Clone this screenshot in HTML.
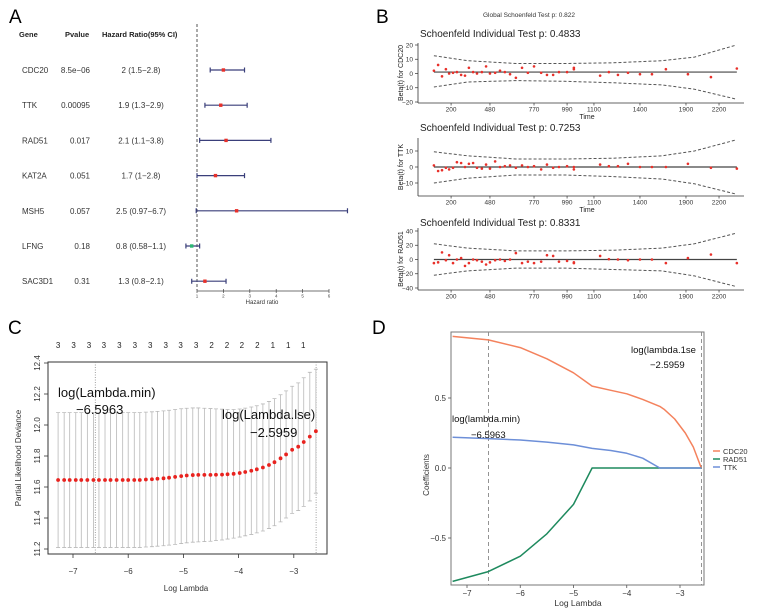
<!DOCTYPE html>
<html><head><meta charset="utf-8"><style>
html,body{margin:0;padding:0;background:#fff;}
svg{display:block;font-family:"Liberation Sans",Arial,sans-serif;}
</style></head><body>
<svg id="fig" xmlns="http://www.w3.org/2000/svg" width="764" height="613" viewBox="0 0 764 613">
<rect width="764" height="613" fill="#fff"/>
<text x="9" y="23" font-size="19">A</text>
<text x="376" y="23" font-size="19">B</text>
<text x="8" y="334" font-size="19">C</text>
<text x="372" y="334" font-size="19">D</text>
<g font-size="7.5" font-weight="bold" fill="#222">
<text x="19" y="37">Gene</text>
<text x="65" y="37">Pvalue</text>
<text x="102" y="37">Hazard Ratio(95% CI)</text>
</g>
<text x="529" y="17" font-size="6.5" text-anchor="middle" fill="#333">Global Schoenfeld Test p: 0.822</text>
<g id="A"></g><g id="B"></g><g id="C"></g><g id="D"></g>
</svg>
<script>
// ---------- Panel A data ----------
const genes=["CDC20","TTK","RAD51","KAT2A","MSH5","LFNG","SAC3D1"];
const pvals=["8.5e\u221206","0.00095","0.017","0.051","0.057","0.18","0.31"];
const hrVals=[2,1.9,2.1,1.7,2.5,0.8,1.3];
const hrLo=[1.5,1.3,1.1,1,0.97,0.58,0.8];
const hrHi=[2.8,2.9,3.8,2.8,6.7,1.1,2.1];
const hrTicks=[1,2,3,4,5,6];
// ---------- Panel B data ----------
const bTimeTicks=["200","480","770","990","1100","1400","1900","2200"];
const bTickPos=[9.9,21.9,35.5,45.7,54,68.2,82.4,92.6];
const bTimes=[4.6,5.9,7.1,8.3,9.3,10.5,11.7,13,14.2,15.4,16.7,17.9,19.4,20.7,21.9,23.5,25,26.5,28.1,29.9,31.8,33.6,35.5,37.7,39.5,41.4,43.2,45.7,47.8,47.8,55.9,58.6,61.4,64.5,68.2,71.9,76.2,83,90.1,98.1];
const betaCDC20=[2,6,-2,3,0,0.5,1,-1,-1.5,4,1,0,1,5,0,0.5,2,1,-0.5,-3,4,0.5,5,0.5,-1,-1,1,1,4,3,-1.5,1,-1,0.5,-0.5,-0.5,3,-0.5,-2.5,3.5];
const betaTTK=[1,-2.5,-2,-0.5,-1.5,-0.5,3,2.5,0,2,2.5,-0.5,-1,1.5,-1,3.5,0,0.5,1,-0.5,1,0,0.5,-1.5,1.5,-0.5,0,0.5,0,-1.5,1.5,0.5,0.5,2,0,0,0,2,-0.5,-1];
const betaRAD51=[-5,-4,10,-1,6,-5,0,2,-9,-5,0,-1,-3,-7,-4,-1,0,-2,0,9,-5,-3,-5,-3,6,5,-3,-2,-5,-4,5,0.5,0,-1,0,0,-5,2,7,-5];
const bandKnots=[4.6,15,30,45,60,75,85,98];
const upCDC20=[12.5,9,7,7,7.5,9,11.5,20], loCDC20=[-9.5,-6,-5,-5.5,-6.5,-8,-11,-18];
const upTTK=[9.5,7,5,5,5.5,7,10,17], loTTK=[-10,-7,-5,-5,-6,-7.5,-10.5,-17];
const upRAD51=[22,16,12,12,13,16,22,37], loRAD51=[-22,-16,-12,-12,-14,-16,-23,-38];
// ---------- Panel C data ----------
const cLambda=[-7.27,-7.16,-7.06,-6.95,-6.85,-6.74,-6.63,-6.53,-6.42,-6.32,-6.21,-6.10,-6.00,-5.89,-5.79,-5.68,-5.57,-5.47,-5.36,-5.26,-5.15,-5.04,-4.94,-4.83,-4.73,-4.62,-4.51,-4.41,-4.30,-4.20,-4.09,-3.98,-3.88,-3.77,-3.67,-3.56,-3.45,-3.35,-3.24,-3.14,-3.03,-2.92,-2.82,-2.71,-2.60];
const cMean=[11.645,11.645,11.645,11.645,11.645,11.645,11.645,11.645,11.645,11.645,11.645,11.645,11.645,11.645,11.645,11.648,11.650,11.653,11.656,11.660,11.665,11.670,11.674,11.677,11.678,11.678,11.678,11.679,11.680,11.682,11.685,11.690,11.697,11.705,11.714,11.726,11.742,11.760,11.785,11.81,11.84,11.86,11.89,11.925,11.96];
const cSE=[0.435,0.435,0.435,0.435,0.435,0.435,0.435,0.435,0.435,0.435,0.435,0.435,0.435,0.435,0.435,0.435,0.435,0.435,0.435,0.435,0.435,0.435,0.434,0.433,0.432,0.430,0.428,0.425,0.422,0.418,0.415,0.413,0.412,0.411,0.410,0.410,0.410,0.410,0.410,0.410,0.410,0.412,0.415,0.415,0.40];
const cTopNums=["3","3","3","3","3","3","3","3","3","3","2","2","2","2","1","1","1"];
const cTopPos=[-7.27,-6.99,-6.71,-6.44,-6.16,-5.88,-5.60,-5.32,-5.05,-4.77,-4.49,-4.21,-3.94,-3.66,-3.38,-3.10,-2.83];
const cYTicks=[11.2,11.4,11.6,11.8,12.0,12.2,12.4];
const cXTicks=[-7,-6,-5,-4,-3];
const lambdaMin=-6.5963, lambda1se=-2.5959;
// ---------- Panel D data ----------
const dLambda=[-7.27,-6.6,-6.0,-5.5,-5.0,-4.65,-4.3,-4.0,-3.7,-3.38,-3.3,-3.1,-2.9,-2.75,-2.6];
const coefCDC20=[0.94,0.915,0.86,0.78,0.68,0.585,0.555,0.53,0.49,0.44,0.42,0.35,0.25,0.15,0];
const coefRAD51=[-0.81,-0.74,-0.63,-0.47,-0.26,0,0,0,0,0,0,0,0,0,0];
const coefTTK=[0.22,0.21,0.20,0.185,0.165,0.14,0.125,0.105,0.07,0,0,0,0,0,0];
const dYTicks=[-0.5,0.0,0.5];
const dXTicks=[-7,-6,-5,-4,-3];

const NS="http://www.w3.org/2000/svg";
function mk(tag,attrs,parent){const e=document.createElementNS(NS,tag);for(const k in attrs)e.setAttribute(k,attrs[k]);parent.appendChild(e);return e;}
function fmt(v){return String(v).replace("-","\u2212");}

// ===== Panel A =====
(function(){
const g=document.getElementById("A");
const hx=v=>197+(v-1)*26.4;
const rowY=i=>70+i*35.2;
let el=mk("line",{x1:197,y1:24,x2:197,y2:290,stroke:"#555","stroke-width":1,"stroke-dasharray":"3,2"},g);


genes.forEach((gn,i)=>{
 const y=rowY(i);
 let t=mk("text",{x:22,y:y+3,"font-size":8,fill:"#333"},g);t.textContent=gn;
 
 
 t=mk("text",{x:90,y:y+3,"font-size":8,fill:"#333","text-anchor":"end"},g);t.textContent=pvals[i];
 
 
 t=mk("text",{x:141,y:y+3,"font-size":8,fill:"#333","text-anchor":"middle"},g);t.textContent=fmt(hrVals[i])+" ("+fmt(hrLo[i])+"\u2212"+fmt(hrHi[i])+")";
 
 
 const ci=mk("path",{d:`M${hx(hrLo[i])},${y}H${hx(hrHi[i])}M${hx(hrLo[i])},${y-2.5}v5M${hx(hrHi[i])},${y-2.5}v5`,stroke:"#3a3f7a","stroke-width":1.2,fill:"none"},g);
 
 
 const pt=mk("rect",{x:hx(hrVals[i])-1.7,y:y-1.7,width:3.4,height:3.4,fill:hrVals[i]<1?"#2bb673":"#e8302a"},g);
 
 
});
el=mk("line",{x1:197,y1:291,x2:329,y2:291,stroke:"#444","stroke-width":0.8},g);


hrTicks.forEach(v=>{
 const tk=mk("line",{x1:hx(v),y1:289,x2:hx(v),y2:293,stroke:"#444","stroke-width":0.7},g);
 
 
 const t=mk("text",{x:hx(v),y:297.5,"font-size":4.5,"text-anchor":"middle",fill:"#444"},g);t.textContent=v;
 
 
});
const t=mk("text",{x:262,y:304,"font-size":6,"text-anchor":"middle",fill:"#333"},g);t.textContent="Hazard ratio";


})();

// ===== Panel B =====
(function(){
const g=document.getElementById("B");
const bx=v=>419+v*3.24;
function sub(cfg){
 const ys=v=>cfg.p0+(cfg.p1-cfg.p0)*(v-cfg.v0)/(cfg.v1-cfg.v0);
 let t=mk("text",{x:420,y:cfg.titleY,"font-size":10,fill:"#222"},g);t.textContent=cfg.title;
 
 
 let a=mk("line",{x1:418,y1:cfg.top,x2:418,y2:cfg.bot,stroke:"#333","stroke-width":0.8},g);
 
 
 a=mk("line",{x1:418,y1:cfg.bot,x2:744,y2:cfg.bot,stroke:"#333","stroke-width":0.8},g);
 
 
 cfg.yticks.forEach(v=>{
  const tk=mk("line",{x1:415,y1:ys(v),x2:418,y2:ys(v),stroke:"#333","stroke-width":0.7},g);
  
  
  const tl=mk("text",{x:413,y:ys(v)+2.3,"font-size":6.5,"text-anchor":"end",fill:"#333"},g);tl.textContent=fmt(v);
  
  
 });
 bTickPos.forEach((p,i)=>{
  const tk=mk("line",{x1:bx(p),y1:cfg.bot,x2:bx(p),y2:cfg.bot+2.5,stroke:"#333","stroke-width":0.7},g);
  
  
  const tl=mk("text",{x:bx(p),y:cfg.bot+8.5,"font-size":6.5,"text-anchor":"middle",fill:"#333"},g);tl.textContent=bTimeTicks[i];
  
  
 });
 if(cfg.timeTitle){const tt=mk("text",{x:587,y:cfg.bot+16,"font-size":7,"text-anchor":"middle",fill:"#222"},g);tt.textContent="Time";
  
  }
 const yl=mk("text",{x:0,y:0,"font-size":7,"text-anchor":"middle",fill:"#222",transform:`translate(403,${(cfg.top+cfg.bot)/2}) rotate(-90)`},g);yl.textContent=cfg.ylab;
 
 
 const band=arr=>bandKnots.map((k,i)=>`${i?"L":"M"}${bx(k).toFixed(1)},${ys(arr[i]).toFixed(1)}`).join("");
 let p=mk("path",{d:band(cfg.up),fill:"none",stroke:"#555","stroke-width":1,"stroke-dasharray":"3,2"},g);
 
 
 p=mk("path",{d:band(cfg.lo),fill:"none",stroke:"#555","stroke-width":1,"stroke-dasharray":"3,2"},g);
 
 
 p=mk("line",{x1:bx(bTimes[0]),y1:ys(cfg.center),x2:bx(bTimes[bTimes.length-1]),y2:ys(cfg.center),stroke:"#444","stroke-width":1.2},g);
 
 
 cfg.vals.forEach((v,i)=>{
  const c=mk("circle",{cx:bx(bTimes[i]),cy:ys(v),r:1.3,fill:"#e8302a"},g);
  
  
 });
}
sub({title:"Schoenfeld Individual Test p: 0.4833",titleY:37,top:43,bot:103,v0:20,p0:45,v1:-20,p1:102,yticks:[-20,-10,0,10,20],ylab:"Beta(t) for CDC20",vals:betaCDC20,up:upCDC20,lo:loCDC20,center:1,timeTitle:true});
sub({title:"Schoenfeld Individual Test p: 0.7253",titleY:131,top:138,bot:196,v0:10,p0:151,v1:-10,p1:183,yticks:[-10,0,10],ylab:"Beta(t) for TTK",vals:betaTTK,up:upTTK,lo:loTTK,center:0,timeTitle:true});
sub({title:"Schoenfeld Individual Test p: 0.8331",titleY:226,top:228,bot:290,v0:40,p0:231,v1:-40,p1:288,yticks:[-40,-20,0,20,40],ylab:"Beta(t) for RAD51",vals:betaRAD51,up:upRAD51,lo:loRAD51,center:0,timeTitle:false});
})();

// ===== Panel C =====
(function(){
const g=document.getElementById("C");
const lx=v=>73+(v+7)*55.2;
const ly=v=>363+(12.4-v)*155;
let el=mk("rect",{x:48,y:362,width:279,height:192,fill:"none",stroke:"#333","stroke-width":1},g);


[lambdaMin,lambda1se].forEach(v=>{
 const l=mk("line",{x1:lx(v),y1:362,x2:lx(v),y2:554,stroke:"#888","stroke-width":0.8,"stroke-dasharray":"1,1.5"},g);
 
 
});
cLambda.forEach((v,i)=>{
 const x=lx(v),u=ly(cMean[i]+cSE[i]),d=ly(cMean[i]-cSE[i]);
 const eb=mk("path",{d:`M${x},${u}V${d}M${x-2},${u}h4M${x-2},${d}h4`,stroke:"#b8b8b8","stroke-width":0.8,fill:"none"},g);
 
 
});
cLambda.forEach((v,i)=>{
 const c=mk("circle",{cx:lx(v),cy:ly(cMean[i]),r:1.9,fill:"#e8231f"},g);
 
 
});
cTopNums.forEach((n,i)=>{
 const t=mk("text",{x:lx(cTopPos[i]),y:348,"font-size":8,"text-anchor":"middle",fill:"#222"},g);t.textContent=n;
 
 
});
cYTicks.forEach(v=>{
 const tk=mk("line",{x1:44,y1:ly(v),x2:48,y2:ly(v),stroke:"#333","stroke-width":0.8},g);
 
 
 const t=mk("text",{x:0,y:0,"font-size":8,"text-anchor":"middle",fill:"#333",transform:`translate(40,${ly(v)}) rotate(-90)`},g);t.textContent=v.toFixed(1);
 
 
});
cXTicks.forEach(v=>{
 const tk=mk("line",{x1:lx(v),y1:554,x2:lx(v),y2:558,stroke:"#333","stroke-width":0.8},g);
 
 
 const t=mk("text",{x:lx(v),y:574,"font-size":8,"text-anchor":"middle",fill:"#333"},g);t.textContent=fmt(v);
 
 
});
let t=mk("text",{x:186,y:591,"font-size":8,"text-anchor":"middle",fill:"#333"},g);t.textContent="Log Lambda";


t=mk("text",{x:0,y:0,"font-size":8,"text-anchor":"middle",fill:"#333",transform:"translate(21,458) rotate(-90)"},g);t.textContent="Partial Likelihood Deviance";


t=mk("text",{x:58,y:397,"font-size":13,fill:"#111"},g);t.textContent="log(Lambda.min)";


t=mk("text",{x:76,y:414,"font-size":13,fill:"#111"},g);t.textContent="\u22126.5963";


t=mk("text",{x:222,y:419,"font-size":13,fill:"#111"},g);t.textContent="log(Lambda.lse)";


t=mk("text",{x:250,y:437,"font-size":13,fill:"#111"},g);t.textContent="\u22122.5959";


})();

// ===== Panel D =====
(function(){
const g=document.getElementById("D");
const dx=v=>467+(v+7)*53.25;
const dy=v=>468-v*140;
let el=mk("rect",{x:451,y:332,width:253,height:253,fill:"none",stroke:"#777","stroke-width":1},g);


[lambdaMin,lambda1se].forEach(v=>{
 const l=mk("line",{x1:dx(v),y1:332,x2:dx(v),y2:585,stroke:"#888","stroke-width":0.9,"stroke-dasharray":"4,3"},g);
 
 
});
const series=[["CDC20",coefCDC20,"#f4825d"],["RAD51",coefRAD51,"#1e8a5e"],["TTK",coefTTK,"#6d8fd8"]];
series.forEach(([nm,vals,col])=>{
 const p=mk("path",{d:dLambda.map((v,i)=>`${i?"L":"M"}${dx(v).toFixed(1)},${dy(vals[i]).toFixed(1)}`).join(""),fill:"none",stroke:col,"stroke-width":1.5,"stroke-linejoin":"round"},g);
 
 
});
dYTicks.forEach(v=>{
 const tk=mk("line",{x1:448,y1:dy(v),x2:451,y2:dy(v),stroke:"#555","stroke-width":0.8},g);
 
 
 const t=mk("text",{x:446,y:dy(v)+3,"font-size":8,"text-anchor":"end",fill:"#333"},g);t.textContent=fmt(v.toFixed(1));
 
 
});
dXTicks.forEach(v=>{
 const tk=mk("line",{x1:dx(v),y1:585,x2:dx(v),y2:588,stroke:"#555","stroke-width":0.8},g);
 
 
 const t=mk("text",{x:dx(v),y:596,"font-size":8,"text-anchor":"middle",fill:"#333"},g);t.textContent=fmt(v);
 
 
});
let t=mk("text",{x:578,y:606,"font-size":8.5,"text-anchor":"middle",fill:"#333"},g);t.textContent="Log Lambda";


t=mk("text",{x:0,y:0,"font-size":8,"text-anchor":"middle",fill:"#333",transform:"translate(429,475) rotate(-90)"},g);t.textContent="Coefficients";


t=mk("text",{x:452,y:422,"font-size":9.5,fill:"#111"},g);t.textContent="log(lambda.min)";


t=mk("text",{x:471,y:438,"font-size":9.5,fill:"#111"},g);t.textContent="\u22126.5963";


t=mk("text",{x:631,y:353,"font-size":9.5,fill:"#111"},g);t.textContent="log(lambda.1se";


t=mk("text",{x:650,y:368,"font-size":9.5,fill:"#111"},g);t.textContent="\u22122.5959";


series.forEach(([nm,vals,col],i)=>{
 const y=451+i*8;
 const l=mk("line",{x1:713,y1:y,x2:720,y2:y,stroke:col,"stroke-width":1.5},g);
 
 
 const tx=mk("text",{x:723,y:y+3,"font-size":7.5,fill:"#333"},g);tx.textContent=nm;
 
 
});
})();
</script>
</body></html>
